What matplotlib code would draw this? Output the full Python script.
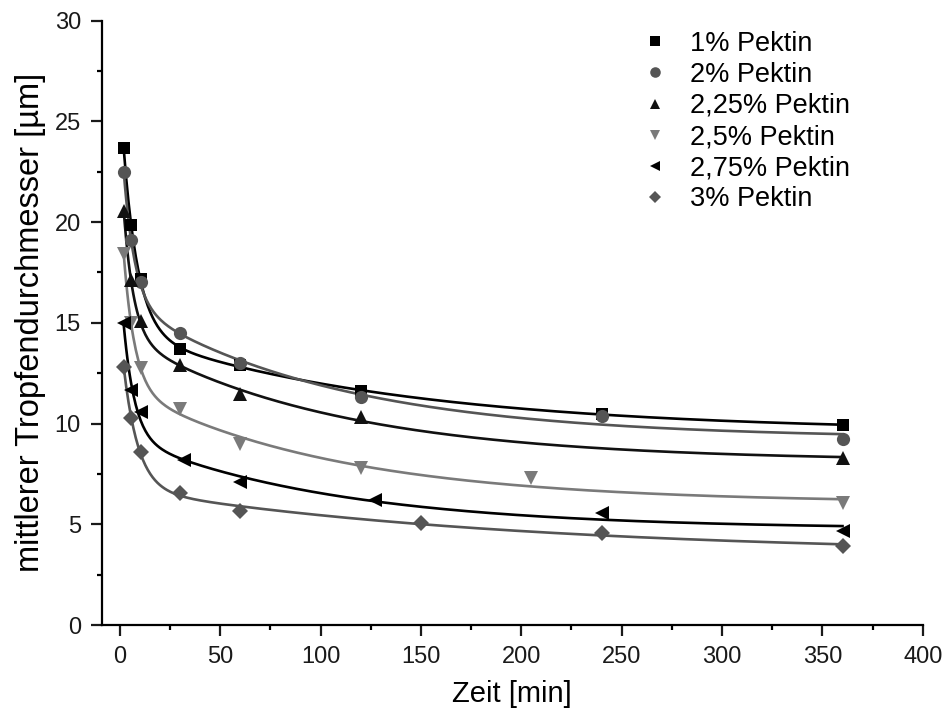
import numpy as np
import matplotlib
matplotlib.use("Agg")
import matplotlib.pyplot as plt
from matplotlib.ticker import MultipleLocator

plt.rcParams['font.family'] = ['Liberation Sans', 'DejaVu Sans']

labels = ["1% Pektin", "2% Pektin", "2,25% Pektin", "2,5% Pektin", "2,75% Pektin", "3% Pektin"]

t_1 = [2, 5.5, 10.5, 30, 60, 120, 240, 360]
d_1 = [23.65, 19.85, 17.15, 13.7, 12.9, 11.6, 10.45, 9.95]

t_2 = [2, 5.5, 10.5, 30, 60, 120, 240, 360]
d_2 = [22.5, 19.1, 17.0, 14.48, 13.0, 11.3, 10.37, 9.22]

t_225 = [2, 5.5, 10.5, 30, 60, 120, 360]
d_225 = [20.55, 17.1, 15.07, 12.9, 11.46, 10.3, 8.3]

t_25 = [2, 5.5, 10.5, 30, 60, 120, 205, 360]
d_25 = [18.4, 15.0, 12.74, 10.72, 8.98, 7.78, 7.31, 6.04]

t_275 = [2, 5.5, 10.5, 32, 60, 127, 240, 360]
d_275 = [15.0, 11.66, 10.55, 8.19, 7.11, 6.2, 5.57, 4.65]

t_3 = [2, 5.5, 10.5, 30, 60, 150, 240, 360]
d_3 = [12.82, 10.26, 8.6, 6.54, 5.66, 5.05, 4.55, 3.94]

series = [(t_1, d_1), (t_2, d_2), (t_225, d_225), (t_25, d_25), (t_275, d_275), (t_3, d_3)]
markers = ['s', 'o', '^', 'v', '<', 'D']
mcolors = ['#000000', '#555555', '#111111', '#7a7a7a', '#000000', '#555555']
lcolors = ['#000000', '#555555', '#111111', '#7a7a7a', '#000000', '#555555']
msizes = [8.5, 9.5, 9.5, 9.5, 9.5, 8]


def fit_curve(t, d):
    t = np.asarray(t, float)
    d = np.asarray(d, float)
    best = None
    for t1 in np.logspace(0, 1.6, 40):
        for t2 in np.logspace(1.4, 3.3, 50):
            if t2 <= t1 * 1.5:
                continue
            A = np.column_stack([np.ones_like(t), np.exp(-t / t1), np.exp(-t / t2)])
            coef, *_ = np.linalg.lstsq(A, d, rcond=None)
            if coef[1] < 0 or coef[2] < 0:
                continue
            r = np.sum((A @ coef - d) ** 2)
            if best is None or r < best[0]:
                best = (r, t1, t2, coef)
    _, t1, t2, coef = best
    xs = np.linspace(t.min(), t.max(), 600)
    ys = coef[0] + coef[1] * np.exp(-xs / t1) + coef[2] * np.exp(-xs / t2)
    return xs, ys


fig = plt.figure(figsize=(9.46, 7.22), dpi=100)
ax = fig.add_axes([0.1075, 0.1343, 0.868, 0.8373])

for (t, d), m, mc, lc, ms, lab in zip(series, markers, mcolors, lcolors, msizes, labels):
    xs, ys = fit_curve(t, d)
    ax.plot(xs, ys, color=lc, lw=1.9, zorder=2)
    ax.plot(t, d, linestyle='none', marker=m, color=mc, markersize=ms,
            markeredgewidth=0, label=lab, zorder=3)

ax.set_xlim(-9, 400)
ax.set_ylim(0, 30)
ax.xaxis.set_major_locator(MultipleLocator(50))
ax.xaxis.set_minor_locator(MultipleLocator(25))
ax.yaxis.set_major_locator(MultipleLocator(5))
ax.yaxis.set_minor_locator(MultipleLocator(2.5))
ax.spines['top'].set_visible(False)
ax.spines['right'].set_visible(False)
for s in ['left', 'bottom']:
    ax.spines[s].set_linewidth(1.6)
ax.tick_params(axis='both', which='major', direction='out', length=8, width=1.6,
               labelsize=17, pad=7, colors='#1a1a1a')
ax.tick_params(axis='both', which='minor', direction='out', length=3.5, width=1.6)

ax.set_xlabel('Zeit [min]', fontsize=21, labelpad=9)
ax.set_ylabel('mittlerer Tropfendurchmesser [µm]', fontsize=23.5, labelpad=6)

leg = fig.legend(loc='upper left', bbox_to_anchor=(0.6667, 0.9725), frameon=False,
                 fontsize=19.5, handletextpad=0.8, labelspacing=0.19,
                 handlelength=1.0, markerscale=0.8, borderaxespad=0)

fig.savefig('out.png', dpi=100)
